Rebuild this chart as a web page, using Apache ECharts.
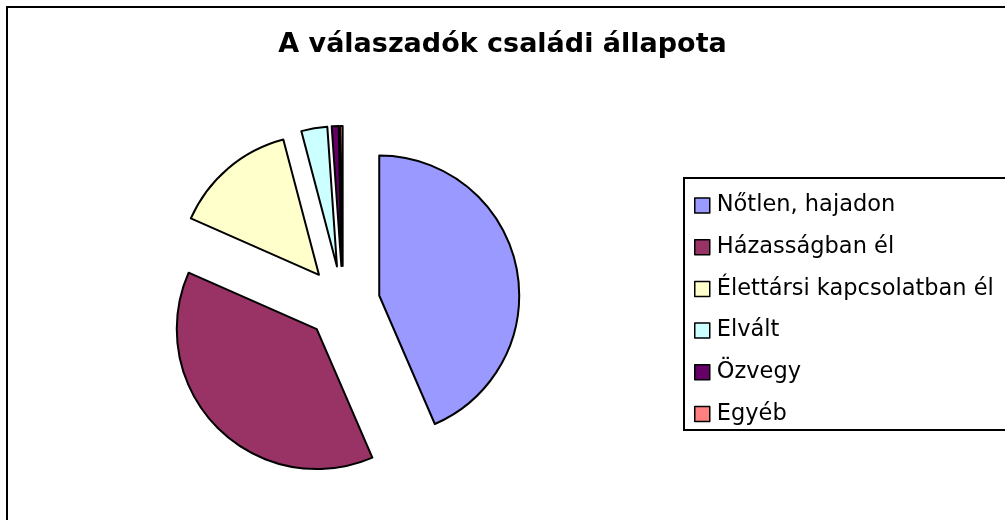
<!DOCTYPE html>
<html><head><meta charset="utf-8">
<script src="https://cdn.jsdelivr.net/npm/echarts@6/dist/echarts.min.js"></script>
<style>html,body{margin:0;padding:0;background:#fff}#c{width:1005px;height:520px}</style>
</head><body><div id="c"></div>
<script>
const categories = ['Nőtlen, hajadon','Házasságban él','Élettársi kapcsolatban él','Elvált','Özvegy','Egyéb'];
const values = [43.5, 38.1, 14.3, 3.0, 0.8, 0.3];
const colors = ['#9999FF','#993366','#FFFFCC','#CCFFFF','#660066','#FF8080'];
const titleText = 'A válaszadók családi állapota';

const chart = echarts.init(document.getElementById('c'), null, {renderer:'canvas'});
const FONT = 'DejaVu Sans, Liberation Sans, Arial, sans-serif';
chart.setOption({
  animation: false,
  backgroundColor: '#fff',
  title: {text: titleText, left: 'center', top: 26,
    textStyle:{fontFamily: FONT, fontSize: 27, fontWeight:'bold', color:'#000'}},
  graphic: [
    {type:'rect', shape:{x:7,y:7,width:1100,height:600}, style:{fill:null, stroke:'#000', lineWidth:2}, z:-1},
    {type:'rect', shape:{x:684,y:178,width:400,height:252}, style:{fill:'#fff', stroke:'#000', lineWidth:2}, z:-1}
  ],
  legend: {
    orient:'vertical', left: 689, top: 189,
    itemWidth: 15, itemHeight: 15, itemGap: 18.7,
    icon: 'rect',
    itemStyle:{borderColor:'#000', borderWidth:1.5},
    textStyle:{fontFamily: FONT, fontSize: 22.5, color:'#000', lineHeight: 20, padding:[0,0,0,2]},
    selectedMode: false,
    data: categories
  },
  series: [{
    type:'pie',
    center:[343,303], radius:[0,140],
    startAngle: 90, clockwise: true,
    selectedMode:'multiple', selectedOffset: 37,
    avoidLabelOverlap:false,
    label:{show:false}, labelLine:{show:false},
    emphasis:{disabled:true, scale:false},
    itemStyle:{borderColor:'#000', borderWidth:2},
    select:{itemStyle:{borderColor:'#000', borderWidth:2}},
    data: categories.map((n,i)=>({name:n, value:values[i], selected:true, itemStyle:{color:colors[i]}, select:{itemStyle:{color:colors[i], borderColor:'#000', borderWidth:2}}}))
  }]
});
</script></body></html>
